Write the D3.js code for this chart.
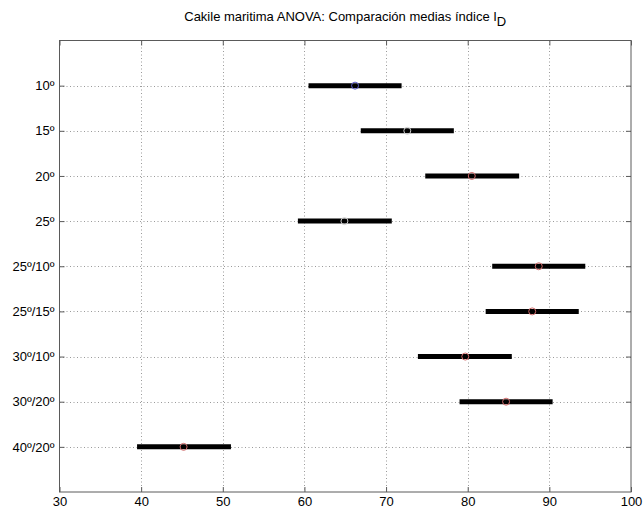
<!DOCTYPE html>
<html>
<head>
<meta charset="utf-8">
<script src="https://cdn.jsdelivr.net/npm/d3@7"></script>
<style>
  html, body { margin: 0; padding: 0; background: #fff; }
  svg { display: block; font-family: Arial, "Liberation Sans", Helvetica, sans-serif; }
</style>
</head>
<body>
<svg id="chart" width="643" height="509"></svg>
<script>
const categories = ["10º", "15º", "20º", "25º", "25º/10º", "25º/15º", "30º/10º", "30º/20º", "40º/20º"];
const means      = [66.2, 72.6, 80.5, 64.9, 88.7, 87.9, 79.7, 84.7, 45.2];
const lower      = [60.5, 66.9, 74.8, 59.2, 83.0, 82.2, 73.9, 79.0, 39.5];
const upper      = [71.9, 78.3, 86.3, 70.7, 94.4, 93.6, 85.4, 90.4, 51.0];
// group status: "sel" = selected group, "diff" = significantly different, "same" = not different
const status     = ["sel", "same", "diff", "same", "diff", "diff", "diff", "diff", "diff"];
const xTicks     = [30, 40, 50, 60, 70, 80, 90, 100];
const titleMain  = "Cakile maritima ANOVA: Comparación medias índice I";
const titleSub   = "D";

const svg = d3.select("#chart");
const mLeft = 59.5, mRight = 631, mTop = 40.5, mBottom = 492;

const x = d3.scaleLinear().domain([30, 100]).range([mLeft, mRight]);
const y = d3.scaleLinear().domain([0, categories.length + 1]).range([mTop, mBottom]);

const statusColor = { sel: "#5a5ac8", diff: "#d06a6a", same: "#d0d0d0" };

// grid
const grid = svg.append("g").attr("stroke", "#9a9a9a").attr("stroke-width", 1).attr("stroke-dasharray", "1,2.5");
grid.selectAll("line.vx").data(xTicks.slice(1, -1)).join("line")
  .attr("x1", d => Math.round(x(d)) + 0.5).attr("x2", d => Math.round(x(d)) + 0.5)
  .attr("y1", mTop).attr("y2", mBottom);
grid.selectAll("line.hy").data(categories).join("line")
  .attr("y1", (d, i) => Math.round(y(i + 1)) + 0.5).attr("y2", (d, i) => Math.round(y(i + 1)) + 0.5)
  .attr("x1", mLeft).attr("x2", mRight);

// box
svg.append("rect").attr("x", mLeft).attr("y", mTop).attr("width", mRight - mLeft).attr("height", mBottom - mTop)
  .attr("fill", "none").attr("stroke", "#5a5a5a").attr("stroke-width", 1);

// axes
const xAxisB = d3.axisBottom(x).tickValues(xTicks).tickSizeInner(-5).tickSizeOuter(0).tickPadding(5);
const gxb = svg.append("g").attr("transform", `translate(0,${mBottom})`).call(xAxisB);
const xAxisT = d3.axisTop(x).tickValues(xTicks).tickSizeInner(-5).tickSizeOuter(0).tickFormat("");
const gxt = svg.append("g").attr("transform", `translate(0,${mTop})`).call(xAxisT);

const yCat = d3.scalePoint().domain(categories).range([y(1), y(categories.length)]);
const yAxisL = d3.axisLeft(yCat).tickSizeInner(-5).tickSizeOuter(0).tickPadding(5);
const gyl = svg.append("g").attr("transform", `translate(${mLeft},0)`).call(yAxisL);
const yAxisR = d3.axisRight(yCat).tickSizeInner(-5).tickSizeOuter(0).tickFormat("");
const gyr = svg.append("g").attr("transform", `translate(${mRight},0)`).call(yAxisR);

[gxb, gxt, gyl, gyr].forEach(g => {
  g.select(".domain").remove();
  g.selectAll(".tick line").attr("stroke", "#5a5a5a");
  g.selectAll("text").attr("fill", "#000").style("font-size", "13px")
    .style("font-family", "Arial, 'Liberation Sans', Helvetica, sans-serif");
});

// interval bars
svg.append("g").selectAll("line").data(categories).join("line")
  .attr("x1", (d, i) => x(lower[i])).attr("x2", (d, i) => x(upper[i]))
  .attr("y1", (d, i) => y(i + 1)).attr("y2", (d, i) => y(i + 1))
  .attr("stroke", "#000").attr("stroke-width", 5);

// means
svg.append("g").selectAll("circle").data(categories).join("circle")
  .attr("cx", (d, i) => x(means[i])).attr("cy", (d, i) => y(i + 1))
  .attr("r", 3.5).attr("fill", "none")
  .attr("stroke", (d, i) => statusColor[status[i]]).attr("stroke-width", 1);

// title
const t = svg.append("text").attr("x", (mLeft + mRight) / 2).attr("y", 21)
  .attr("text-anchor", "middle").style("font-size", "13px").attr("fill", "#000");
t.append("tspan").text(titleMain);
t.append("tspan").attr("dy", 5).style("font-size", "13px").text(titleSub);
</script>
</body>
</html>
